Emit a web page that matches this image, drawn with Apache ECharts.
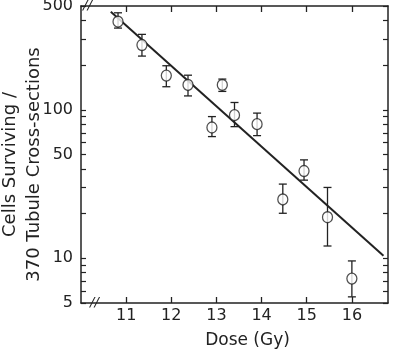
<!DOCTYPE html>
<html>
<head>
<meta charset="utf-8">
<script src="https://cdn.jsdelivr.net/npm/echarts@6/dist/echarts.min.js"></script>
<style>
  html, body { margin: 0; padding: 0; background: #fff; }
  #chart { width: 397px; height: 350px; }
</style>
</head>
<body>
<div id="chart"></div>
<script>
// values (log y axis)
const doses = [10.82, 11.35, 11.89, 12.37, 12.90, 13.13, 13.40, 13.90, 14.47, 14.94, 15.46, 16.00];
const cells = [392, 273, 170, 147, 76, 147, 92, 80, 24.9, 38.7, 18.9, 7.3];
const errLow = [355, 230, 143, 124, 66, 133, 77, 67, 20.1, 33.6, 12.1, 5.5];
const errHigh = [450, 322, 198, 171, 90, 161, 112, 95, 31.6, 46, 30, 9.6];
const fitDose = [10.66, 16.70];
const fitCells = [458, 10.4];
const doseTicks = [11, 12, 13, 14, 15, 16];
const cellLabels = [5, 10, 50, 100, 500];
const cellTicks = [5, 6, 7, 8, 9, 10, 20, 30, 40, 50, 60, 70, 80, 90, 100, 200, 300, 400, 500];

const ink = '#222';
const font = 'DejaVu Sans';

const chart = echarts.init(document.getElementById('chart'));

const xBase = {
  type: 'value',
  min: 10,
  max: 16.8,
  splitLine: { show: false },
  axisLine: { lineStyle: { color: ink, width: 1.5 } },
  axisTick: { inside: true, length: 6, customValues: doseTicks, lineStyle: { color: ink, width: 1.3 } },
}

const yBase = {
  type: 'log',
  logBase: 10,
  min: 5,
  max: 500,
  splitLine: { show: false },
  minorTick: { show: false },
  axisLine: { show: true, lineStyle: { color: ink, width: 1.5 } },
  axisTick: { inside: true, length: 5, customValues: cellTicks, lineStyle: { color: ink, width: 1.2 } },
}

chart.setOption({
  animation: false,
  backgroundColor: '#fff',
  textStyle: { fontFamily: font, color: ink },
  grid: { left: 81, right: 9, top: 6, bottom: 47, containLabel: false, outerBoundsMode: 'none' },
  xAxis: [
    {
      ...xBase,
      position: 'bottom',
      axisLabel: { customValues: doseTicks, fontSize: 16, color: ink, fontFamily: font, margin: 5 },
      name: 'Dose (Gy)',
      nameLocation: 'middle',
      nameGap: 29,
      nameMoveOverlap: false,
      nameTextStyle: { fontSize: 17, color: ink, fontFamily: font, padding: [0, 0, 0, 26] },
    },
    {
      ...xBase,
      position: 'top',
      axisLabel: { show: false },
    },
  ],
  yAxis: [
    {
      ...yBase,
      position: 'left',
      axisLabel: { customValues: cellLabels, fontSize: 16, color: ink, fontFamily: font, margin: 8 },
      name: 'Cells Surviving /\n370 Tubule Cross-sections',
      nameLocation: 'middle',
      nameGap: 35,
      nameMoveOverlap: false,
      nameTextStyle: { fontSize: 18, lineHeight: 24, color: ink, fontFamily: font, padding: [0, 20, 0, 0] },
    },
    {
      ...yBase,
      position: 'right',
      axisLabel: { show: false },
    },
  ],
  graphic: [
    { type: 'text', x: 83, y: -1, style: { text: '//', font: 'italic 13px DejaVu Sans', fill: ink } },
    { type: 'text', x: 90, y: 296, style: { text: '//', font: 'italic 13px DejaVu Sans', fill: ink } },
  ],
  series: [
    {
      type: 'line',
      data: fitDose.map((d, i) => [d, fitCells[i]]),
      showSymbol: false,
      lineStyle: { color: ink, width: 2 },
      z: 1,
    },
    {
      type: 'custom',
      data: doses.map((d, i) => [d, errLow[i], errHigh[i]]),
      renderItem: (params, api) => {
        const lo = api.coord([api.value(0), api.value(1)]);
        const hi = api.coord([api.value(0), api.value(2)]);
        const w = 4;
        const st = { stroke: ink, lineWidth: 1.3 };
        return {
          type: 'group',
          children: [
            { type: 'line', shape: { x1: lo[0], y1: lo[1], x2: hi[0], y2: hi[1] }, style: st },
            { type: 'line', shape: { x1: lo[0] - w, y1: lo[1], x2: lo[0] + w, y2: lo[1] }, style: st },
            { type: 'line', shape: { x1: hi[0] - w, y1: hi[1], x2: hi[0] + w, y2: hi[1] }, style: st },
          ],
        };
      },
      z: 2,
    },
    {
      type: 'scatter',
      data: doses.map((d, i) => [d, cells[i]]),
      symbol: 'circle',
      symbolSize: [10, 11],
      itemStyle: { color: '#fff', borderColor: ink, borderWidth: 1.3 },
      z: 3,
    },
  ],
});
</script>
</body>
</html>
